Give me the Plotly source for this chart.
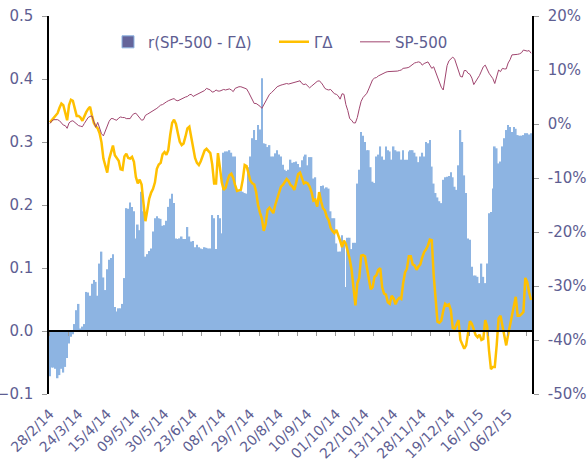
import plotly.graph_objects as go

# ---- data ----
labels = ["28/2/14", "24/3/14", "15/4/14", "09/5/14", "30/5/14", "23/6/14", "08/7/14",
          "29/7/14", "20/8/14", "10/9/14", "01/10/14", "22/10/14", "13/11/14", "28/11/14",
          "19/12/14", "16/1/15", "06/2/15"]
label_step = 15

right_ticks = [-50, -40, -30, -20, -10, 0, 10, 20]
right_tick_text = ["-50%", "-40%", "-30%", "-20%", "-10%", "0%", "10%", "20%"]
left_ticks = [-0.1, 0.0, 0.1, 0.2, 0.3, 0.4, 0.5]

corr = [
    -0.072, -0.058, -0.058, -0.06, -0.075, -0.07, -0.06, -0.066, -0.057, -0.043, -0.02, -0.009, -0.005,
    0.011, 0.033, 0.043, 0.004, 0.007, 0.011, 0.062,
    0.061, 0.056, 0.075, 0.081, 0.078, 0.056, 0.107, 0.126, 0.085, 0.065,
    0.098, 0.113, 0.116, 0.122, 0.038, 0.031, 0.036, 0.036, 0.043, 0.084,
    0.195, 0.194, 0.204, 0.197, 0.19, 0.147, 0.169, 0.16, 0.221, 0.19,
    0.118, 0.122, 0.127, 0.131, 0.158, 0.179, 0.182, 0.179, 0.178, 0.167,
    0.168, 0.175, 0.197, 0.21, 0.218, 0.203, 0.147, 0.146, 0.147, 0.15,
    0.146, 0.146, 0.165, 0.15, 0.142, 0.143, 0.133, 0.137, 0.133, 0.131,
    0.13, 0.133, 0.132, 0.131, 0.131, 0.184, 0.179, 0.13, 0.184, 0.179,
    0.155, 0.283, 0.285, 0.285, 0.287, 0.283, 0.277, 0.277, 0.224, 0.222,
    0.222, 0.221, 0.219, 0.218, 0.26, 0.277, 0.306, 0.319, 0.303, 0.327,
    0.32, 0.401, 0.298, 0.297, 0.292, 0.295, 0.277, 0.277, 0.282, 0.287,
    0.28, 0.277, 0.264, 0.256, 0.254, 0.256, 0.272, 0.267, 0.268, 0.269,
    0.265, 0.26, 0.271, 0.277, 0.28, 0.263, 0.276, 0.276, 0.242, 0.244,
    0.206, 0.216, 0.23, 0.231, 0.226, 0.228, 0.226, 0.19, 0.179, 0.179,
    0.139, 0.126, 0.126, 0.152, 0.139, 0.07, 0.148, 0.148, 0.13, 0.14,
    0.14, 0.234, 0.256, 0.316, 0.31, 0.3, 0.287, 0.287, 0.26, 0.237,
    0.235, 0.277, 0.28, 0.293, 0.277, 0.272, 0.293, 0.287, 0.285, 0.272,
    0.293, 0.287, 0.285, 0.285, 0.272, 0.287, 0.272, 0.272, 0.285, 0.287,
    0.287, 0.283, 0.277, 0.268, 0.277, 0.283, 0.277, 0.3, 0.298, 0.303,
    0.261, 0.234, 0.219,
    0.212, 0.206, 0.203, 0.24, 0.244, 0.245, 0.246, 0.252, 0.244, 0.229,
    0.224, 0.263, 0.319, 0.3, 0.247, 0.219, 0.147, 0.145, 0.102, 0.088,
    0.088, 0.086, 0.076, 0.107, 0.086, 0.076, 0.107, 0.187, 0.189, 0.226,
    0.293, 0.29, 0.266, 0.269, 0.293, 0.306, 0.319, 0.327, 0.324, 0.316,
    0.324, 0.321, 0.311, 0.31, 0.31, 0.311, 0.314, 0.314, 0.312, 0.314,
]

gd = [
    0.3, 0.7, 1.0, 1.5, 2.0, 3.0, 3.8, 3.5, 1.9, 0.7,
    3.5, 4.5, 4.3, 2.8, 1.5, 1.5, 1.2, 0.6, 1.5, 2.2,
    2.8, 3.2, 1.6, 0.2, -0.4, -0.8, -1.7, -3.4, -6.4, -8.0,
    -9.0, -6.5, -5.0, -4.0, -5.8, -6.4, -6.8, -8.4, -8.5, -6.0,
    -5.5, -6.3, -6.4, -6.1, -7.0, -9.8, -11.0, -10.3, -11.2, -14.7,
    -18.0, -16.0, -13.8, -12.7, -12.0, -10.8, -8.3, -7.5, -7.2, -5.6,
    -5.2, -5.7, -4.8, -2.0, 0.2, 0.8, 0.0, -1.7, -3.3, -3.9,
    -3.6, -2.3, -0.8, -0.5, -2.3, -4.3, -6.3, -7.2, -7.6, -6.9,
    -5.9, -4.9, -4.6, -5.0, -5.4, -7.5, -11.0, -11.0, -5.4, -8.0,
    -10.8, -12.2, -11.8, -10.5, -9.5, -9.2, -10.0, -11.3, -12.4, -12.3,
    -12.2, -10.3, -7.6, -7.8, -9.0, -10.5, -11.0, -11.2, -12.6, -15.0,
    -16.4, -17.5, -19.8, -18.5, -15.9, -15.5, -16.0, -16.5, -15.0, -13.8,
    -12.6, -11.6, -11.3, -10.6, -10.2, -10.6, -11.3, -11.6, -12.2, -10.8,
    -9.3, -9.0, -10.0, -11.0, -10.8, -11.0, -11.6, -12.6, -14.2, -14.0,
    -15.3, -12.6, -14.3, -15.6, -16.0, -17.2, -17.8, -19.2, -19.8, -20.2,
    -19.6, -20.5, -21.6, -22.8, -21.6, -22.2, -23.6, -25.0, -27.0, -31.0,
    -33.6, -29.5, -28.5, -24.4, -24.3, -24.5, -26.5, -29.0, -30.6, -30.2,
    -28.3, -28.0, -27.0, -26.7, -30.2, -31.4, -31.6, -33.0, -33.3, -31.8,
    -32.3, -33.4, -32.6, -32.2, -32.4, -29.5, -27.5, -26.8, -24.5, -24.5,
    -26.0, -26.2, -27.0, -26.4, -26.0, -24.7, -23.7, -23.2, -22.5, -21.4,
    -21.5, -28.0, -32.0, -36.6, -36.8, -36.4, -34.6, -33.3, -33.6, -33.4,
    -34.5, -37.8, -37.9, -37.1, -36.3, -40.0, -40.8, -41.6, -41.0, -38.8,
    -36.5, -37.0, -38.1, -39.1, -39.5, -39.0, -40.0, -39.8, -36.3, -37.5,
    -42.0, -45.4, -45.0, -45.0, -41.0, -36.0, -35.5, -37.5, -39.5, -41.0,
    -39.0, -37.2, -35.5, -33.2, -32.0, -35.5, -35.5, -35.2, -34.8, -28.5,
    -29.3, -31.2, -32.6,
]

sp500 = [
    0.1, 0.6, 0.8, 0.8, 0.8, 0.6, 0.2, -0.2, -0.3, -0.8,
    0.2, 0.5, 0.6, 0.3, 0.0, -0.3, -0.4, -0.5, 0.1, 0.6,
    1.2, 1.4, 1.5, 0.4, -0.6, 0.3, -1.0, -1.8, -2.2, -1.3,
    -0.4, 0.5, 1.0, 1.0, 0.8, 0.7, 1.1, 1.3, 1.2, 1.2,
    1.0, 1.0, 1.0, 1.6, 1.9, 2.0, 1.6, 1.2, 0.7, 0.8,
    1.6, 1.8, 2.0, 2.3, 2.4, 2.6, 2.9, 3.2, 3.5, 3.6,
    3.9, 4.1, 4.3, 4.5, 4.6, 4.7, 4.4, 4.3, 4.5, 4.7,
    4.8, 5.0, 5.1, 5.4, 5.5, 5.1, 5.3, 5.5, 5.7, 5.8,
    6.0, 6.2, 6.6, 6.4, 6.3, 5.9, 6.0, 6.3, 6.1, 6.1,
    6.3, 6.4, 6.3, 6.4, 6.5, 6.3, 6.0, 6.6, 6.8, 6.9,
    6.9, 6.8, 6.6, 6.5, 5.9, 5.2, 4.2, 3.8, 3.8, 3.6,
    3.3, 2.9, 3.6, 4.3, 5.0, 5.5, 5.8, 6.1, 6.5, 6.9,
    7.1, 7.2, 7.3, 7.4, 7.5, 7.4, 7.5, 7.6, 7.6, 7.7,
    7.9, 8.0, 7.5, 7.3, 7.4, 7.1, 6.7, 7.0, 7.3, 7.7,
    7.9, 8.0, 7.7, 7.2, 6.6, 6.4, 6.3, 6.4, 5.9, 5.6,
    5.5, 5.2, 4.6, 5.6, 5.5, 3.6, 2.5, 1.0, 0.7, 0.2,
    0.2, 1.2, 2.8, 4.2, 4.9, 5.3, 5.7, 6.5, 7.2, 8.2,
    8.5, 8.6, 8.9, 9.1, 9.3, 9.5, 9.6, 9.7, 9.7, 9.7,
    9.7, 9.7, 9.8, 9.9, 10.0, 10.3, 10.3, 10.4, 10.5, 10.8,
    11.1, 11.3, 11.4, 11.5, 11.4, 10.9, 11.2, 11.4, 11.5, 10.9,
    10.3, 10.6, 9.6, 8.5, 7.7, 6.8, 6.3, 8.7, 10.8, 11.7,
    12.1, 12.4, 12.0, 11.0, 10.0, 8.8, 8.7, 9.9, 9.9, 9.4,
    9.2, 8.5, 7.3, 7.8, 8.5, 9.0, 9.8, 10.6, 10.9, 10.0,
    9.4, 8.9, 8.4, 7.5, 8.6, 10.0, 9.7, 10.3, 10.2, 10.2,
    11.3, 11.9, 12.8, 12.8, 12.8, 12.9, 13.0, 13.2, 13.7, 13.6,
    13.5, 13.6, 13.1,
]

n = len(corr)
idx = list(range(n))
label_pos = [i * label_step for i in range(len(labels))]
minor_ticks = [t - 0.5 for t in range(0, n + 1, 10)]

TXT = "#5E5E92"
FONT = "DejaVu Sans"

fig = go.Figure()
fig.add_trace(go.Bar(x=idx, y=corr, marker=dict(color="#8DB4E2", line=dict(width=0)),
                     showlegend=False, xaxis="x", yaxis="y"))
fig.add_trace(go.Bar(x=[None], y=[None], name="r(SP-500 - ΓΔ)",
                     marker=dict(color="#64649A", line=dict(color="#8DB4E2", width=1)),
                     legend="legend", xaxis="x", yaxis="y"))
fig.add_trace(go.Scatter(x=idx, y=gd, mode="lines", name="ΓΔ",
                         line=dict(color="#FFC000", width=2.5),
                         legend="legend2", xaxis="x2", yaxis="y2"))
fig.add_trace(go.Scatter(x=idx, y=sp500, mode="lines", name="SP-500",
                         line=dict(color="#A0456F", width=1),
                         legend="legend3", xaxis="x2", yaxis="y2"))

ax_font = dict(family=FONT, size=15, color=TXT)
W = 483.0
def px(xp):
    return (xp - 49) / W

leg_common = dict(orientation="h", yanchor="middle", y=0.931, xanchor="left",
                  font=dict(family=FONT, size=15, color=TXT), bgcolor="rgba(0,0,0,0)",
                  itemwidth=30)

fig.update_layout(
    width=587, height=470,
    margin=dict(l=49, r=55, t=16, b=76, autoexpand=False),
    paper_bgcolor="white", plot_bgcolor="white",
    bargap=0.12,
    font=dict(family=FONT, color=TXT),
    legend=dict(x=px(108), **leg_common),
    legend2=dict(x=px(274), **leg_common),
    legend3=dict(x=px(355), **leg_common),
    xaxis=dict(range=[-0.5, n - 0.5], tickmode="array", tickvals=label_pos, ticktext=labels,
               tickangle=-45, tickfont=dict(family=FONT, size=14, color=TXT),
               showline=False, showgrid=False, zeroline=False, ticks="", automargin=False,
               ticklabelstandoff=8),
    xaxis2=dict(range=[-0.5, n - 0.5], overlaying="x", anchor="free", position=1/6,
                tickmode="array", tickvals=minor_ticks, showticklabels=False,
                ticks="outside", ticklen=4, tickcolor="#9a9a9a",
                showline=True, linecolor="black", linewidth=1.5,
                showgrid=False, zeroline=False, automargin=False),
    yaxis=dict(range=[-0.1, 0.5], tickmode="array", tickvals=left_ticks,
               tickformat=".1f", tickfont=ax_font, showline=True, linecolor="black", linewidth=1.5,
               ticks="outside", ticklen=5, tickcolor="#9a9a9a", showgrid=False, zeroline=False,
               ticklabelstandoff=6, automargin=False),
    yaxis2=dict(range=[-50, 20], overlaying="y", side="right", anchor="x",
                tickmode="array", tickvals=right_ticks, ticktext=right_tick_text,
                tickfont=ax_font, showline=True, linecolor="black", linewidth=1.5,
                ticks="outside", ticklen=5, tickcolor="#9a9a9a", showgrid=False, zeroline=False,
                ticklabelstandoff=6, automargin=False),
)

fig.write_html("out.html", config={"displayModeBar": False},
               post_script="document.body.style.margin='0px';")
